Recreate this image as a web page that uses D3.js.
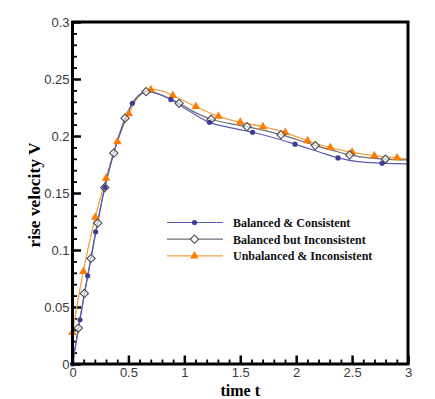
<!DOCTYPE html>
<html>
<head>
<meta charset="utf-8">
<script src="https://cdn.jsdelivr.net/npm/d3@7"></script>
<style>
  body { margin: 0; background: #fff; }
  .tick text { font-family: "Liberation Sans", Arial, sans-serif; font-size: 13px; fill: #3a3a3a; }
</style>
</head>
<body>
<div id="container"></div>
<script>
/* CONSTANTS AND GLOBALS */
const width = 435,
  height = 399,
  margin = { top: 22, bottom: 35, left: 72.5, right: 27 };

// tick values
const xTicks = [0, 0.5, 1, 1.5, 2, 2.5, 3];
const yTicks = [0, 0.05, 0.1, 0.15, 0.2, 0.25, 0.3];
const seriesNames = ["Balanced & Consistent", "Balanced but Inconsistent", "Unbalanced & Inconsistent"];

// Balanced & Consistent (line + dot markers)
const bcLine = [[0, 0], [0.067, 0.0388], [0.136, 0.0774], [0.207, 0.116], [0.29, 0.155], [0.38, 0.189],
  [0.47, 0.2145], [0.535, 0.2287], [0.6, 0.2365], [0.66, 0.2393], [0.75, 0.2375], [0.88, 0.232],
  [1.05, 0.2215], [1.225, 0.212], [1.4, 0.2075], [1.61, 0.2033], [1.8, 0.1985], [1.99, 0.1928],
  [2.2, 0.1862], [2.374, 0.1808], [2.55, 0.1775], [2.768, 0.1762], [3.0, 0.1755]];
const bcMarks = [[0, 0], [0.067, 0.0388], [0.136, 0.0774], [0.207, 0.116], [0.29, 0.155], [0.535, 0.2287],
  [0.88, 0.232], [1.225, 0.212], [1.61, 0.2033], [1.99, 0.1928], [2.374, 0.1808], [2.768, 0.1762]];

// Balanced but Inconsistent (line + hollow diamonds)
const biLine = [[0, 0], [0.052, 0.0315], [0.106, 0.0619], [0.166, 0.0926], [0.225, 0.1236], [0.288, 0.1548],
  [0.369, 0.185], [0.47, 0.2156], [0.56, 0.2320], [0.658, 0.2389], [0.78, 0.2365], [0.953, 0.2287],
  [1.1, 0.2205], [1.24, 0.2147], [1.4, 0.2110], [1.56, 0.2083], [1.864, 0.2012], [2.171, 0.1916],
  [2.335, 0.1872], [2.478, 0.1835], [2.65, 0.1808], [2.798, 0.1798], [3.0, 0.179]];
const biMarks = [[0.052, 0.0315], [0.106, 0.0619], [0.166, 0.0926], [0.225, 0.1236], [0.288, 0.1548],
  [0.369, 0.185], [0.47, 0.2156], [0.658, 0.2389], [0.953, 0.2287], [1.24, 0.2147], [1.56, 0.2083],
  [1.864, 0.2012], [2.171, 0.1916], [2.478, 0.1835], [2.798, 0.1798]];

// Unbalanced & Inconsistent (line + filled triangles)
const uiLine = [[0, 0.0277], [0.097, 0.0812], [0.204, 0.1288], [0.30, 0.163], [0.401, 0.195],
  [0.503, 0.2195], [0.6, 0.2355], [0.70, 0.2405], [0.8, 0.2395], [0.897, 0.2355], [1.103, 0.2258],
  [1.305, 0.2172], [1.5, 0.212], [1.703, 0.2082], [1.902, 0.2030], [2.102, 0.1958], [2.305, 0.1898],
  [2.5, 0.1857], [2.699, 0.1827], [2.902, 0.1808], [3.0, 0.1797]];
const uiMarks = [[0, 0.0277], [0.097, 0.0812], [0.204, 0.1288], [0.30, 0.163], [0.401, 0.195],
  [0.503, 0.2195], [0.70, 0.2405], [0.897, 0.2355], [1.103, 0.2258], [1.305, 0.2172], [1.5, 0.212],
  [1.703, 0.2082], [1.902, 0.2030], [2.102, 0.1958], [2.305, 0.1898], [2.5, 0.1857], [2.699, 0.1827],
  [2.902, 0.1808]];

const blueLine = "#5b5bb5", blueDot = "#3d3d96";
const grayLine = "#6e6e7c", grayMark = "#4a4a4a";
const orangeLine = "#f0a045", orangeMark = "#ff7a00";

const svg = d3.select("#container")
  .append("svg")
  .attr("width", width)
  .attr("height", height);

/* SCALES */
const xScale = d3.scaleLinear().domain([0, 3]).range([margin.left, width - margin.right]);
const yScale = d3.scaleLinear().domain([0, 0.3]).range([height - margin.bottom, margin.top]);

const fmt = d => d3.format("")(+d.toFixed(2));

// minor ticks
const xMinor = d3.range(0, 31).map(i => i / 10).filter(v => Math.abs(v * 2 - Math.round(v * 2)) > 1e-6);
const yMinor = d3.range(0, 31).map(i => i / 100).filter(v => Math.abs(v * 20 - Math.round(v * 20)) > 1e-6);

svg.append("g")
  .attr("transform", `translate(0, ${height - margin.bottom})`)
  .call(d3.axisBottom(xScale).tickValues(xMinor).tickSizeInner(-4.5).tickSizeOuter(0).tickFormat(""))
  .call(g => g.select(".domain").remove())
  .call(g => g.selectAll("line").attr("stroke", "#000").attr("stroke-width", 1.8));

svg.append("g")
  .attr("transform", `translate(${margin.left}, 0)`)
  .call(d3.axisLeft(yScale).tickValues(yMinor).tickSizeInner(-4.5).tickSizeOuter(0).tickFormat(""))
  .call(g => g.select(".domain").remove())
  .call(g => g.selectAll("line").attr("stroke", "#000").attr("stroke-width", 1.8));

// major ticks
svg.append("g")
  .attr("transform", `translate(0, ${height - margin.bottom})`)
  .call(d3.axisBottom(xScale).tickValues(xTicks).tickSizeInner(-8.5).tickSizeOuter(0).tickPadding(4).tickFormat(fmt))
  .call(g => g.select(".domain").remove())
  .call(g => g.selectAll("line").attr("stroke", "#000").attr("stroke-width", 2.5));

svg.append("g")
  .attr("transform", `translate(${margin.left}, 0)`)
  .call(d3.axisLeft(yScale).tickValues(yTicks).tickSizeInner(-8.5).tickSizeOuter(0).tickPadding(3).tickFormat(fmt))
  .call(g => g.select(".domain").remove())
  .call(g => g.selectAll("line").attr("stroke", "#000").attr("stroke-width", 2.5));

// clip
svg.append("clipPath").attr("id", "clip")
  .append("rect")
  .attr("x", margin.left).attr("y", margin.top)
  .attr("width", width - margin.left - margin.right)
  .attr("height", height - margin.top - margin.bottom);

const line = d3.line()
  .x(d => xScale(d[0]))
  .y(d => yScale(d[1]))
  .curve(d3.curveCatmullRom.alpha(0.5));

const plot = svg.append("g").attr("clip-path", "url(#clip)");

plot.append("path").datum(uiLine)
  .attr("d", line).attr("fill", "none").attr("stroke", orangeLine).attr("stroke-width", 1.3);
plot.append("path").datum(biLine)
  .attr("d", line).attr("fill", "none").attr("stroke", grayLine).attr("stroke-width", 1.2);
plot.append("path").datum(bcLine)
  .attr("d", line).attr("fill", "none").attr("stroke", blueLine).attr("stroke-width", 1.2);

const diamond = d3.symbol().type(d3.symbolSquare).size(34);
const tri = d3.symbol().type(d3.symbolTriangle).size(32);

const markers = svg.append("g");

markers.selectAll("path.ui")
  .data(uiMarks)
  .join("path")
  .attr("class", "ui")
  .attr("d", tri)
  .attr("transform", d => `translate(${xScale(d[0])}, ${yScale(d[1])})`)
  .attr("fill", orangeMark);

markers.selectAll("path.bi")
  .data(biMarks)
  .join("path")
  .attr("class", "bi")
  .attr("d", diamond)
  .attr("transform", d => `translate(${xScale(d[0])}, ${yScale(d[1])}) rotate(45)`)
  .attr("fill", "#fff")
  .attr("fill-opacity", 0.6)
  .attr("stroke", grayMark)
  .attr("stroke-width", 1.1);

markers.selectAll("circle.bc")
  .data(bcMarks)
  .join("circle")
  .attr("class", "bc")
  .attr("cx", d => xScale(d[0]))
  .attr("cy", d => yScale(d[1]))
  .attr("r", 2.6)
  .attr("fill", blueDot);

// frame
svg.append("rect")
  .attr("x", margin.left).attr("y", margin.top)
  .attr("width", width - margin.left - margin.right)
  .attr("height", height - margin.top - margin.bottom)
  .attr("fill", "none")
  .attr("stroke", "#000")
  .attr("stroke-width", 3);

// legend
const legend = svg.append("g").attr("transform", "translate(167, 222.5)");
const legendStyles = [
  { stroke: blueLine, mark: "dot" },
  { stroke: grayLine, mark: "diamond" },
  { stroke: orangeLine, mark: "tri" }
];
seriesNames.forEach((name, i) => {
  const row = legend.append("g").attr("transform", `translate(0, ${i * 16.7})`);
  row.append("line").attr("x1", 0).attr("x2", 56).attr("y1", 0).attr("y2", 0)
    .attr("stroke", legendStyles[i].stroke).attr("stroke-width", 1.2);
  if (legendStyles[i].mark === "dot") {
    row.append("circle").attr("cx", 27.5).attr("cy", 0).attr("r", 2.6).attr("fill", blueDot);
  } else if (legendStyles[i].mark === "diamond") {
    row.append("path").attr("d", diamond).attr("transform", "translate(27.5, 0) rotate(45)")
      .attr("fill", "#fff").attr("stroke", grayMark).attr("stroke-width", 1.1);
  } else {
    row.append("path").attr("d", tri).attr("transform", "translate(27.5, 0)").attr("fill", orangeMark);
  }
  row.append("text")
    .attr("x", 66).attr("y", 4.5)
    .style("font-family", "'Liberation Serif', 'Times New Roman', serif")
    .style("font-weight", "bold")
    .style("font-size", "12px")
    .attr("fill", "#111")
    .text(name);
});

// axis titles
svg.append("text")
  .attr("x", xScale(1.5))
  .attr("y", 396)
  .attr("text-anchor", "middle")
  .style("font-family", "'Liberation Serif', 'Times New Roman', serif")
  .style("font-weight", "bold")
  .style("font-size", "16px")
  .text("time t");

svg.append("text")
  .attr("transform", "rotate(-90)")
  .attr("x", -195)
  .attr("y", 39.5)
  .attr("text-anchor", "middle")
  .attr("textLength", 105)
  .attr("lengthAdjust", "spacingAndGlyphs")
  .style("font-family", "'Liberation Serif', 'Times New Roman', serif")
  .style("font-weight", "bold")
  .style("font-size", "16px")
  .text("rise velocity V");
</script>
</body>
</html>
